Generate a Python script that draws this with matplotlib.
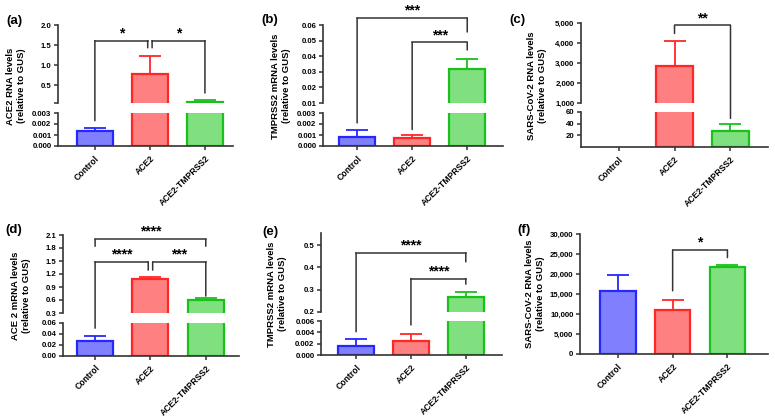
import numpy as np
import matplotlib
matplotlib.use('Agg')
import matplotlib.pyplot as plt
from matplotlib.patches import ConnectionPatch
from matplotlib.ticker import StrMethodFormatter

plt.rcParams['font.family'] = ['Liberation Sans', 'DejaVu Sans']
plt.rcParams['font.weight'] = 'bold'

# groups and colours
groups = ['Control', 'ACE2', 'ACE2-TMPRSS2']
face = ['#8080ff', '#ff8080', '#80e080']
edge = ['#2626ff', '#ff2626', '#19c219']
axc = '#333333'

# values (mean, upper error)
a_mean = [0.00135, 0.78, 0.07]
a_err = [0.0003, 0.45, 0.05]
b_mean = [0.00082, 0.00077, 0.032]
b_err = [0.0006, 0.0002, 0.0065]
c_mean = [np.nan, 2850, 28]
c_err = [np.nan, 1250, 11]
d_mean = [0.027, 1.08, 0.60]
d_err = [0.008, 0.04, 0.04]
e_mean = [0.00165, 0.0025, 0.269]
e_err = [0.0012, 0.0012, 0.019]
f_mean = [15800, 11000, 21700]
f_err = [4000, 2600, 600]

W, H = 775, 420
fig = plt.figure(figsize=(W / 100, H / 100), dpi=100)


def box(x0, y0, x1, y1):
    # pixel box -> figure fraction
    return [x0 / W, 1 - y1 / H, (x1 - x0) / W, (y1 - y0) / H]


def style(ax, bottom):
    for s in ['top', 'right']:
        ax.spines[s].set_visible(False)
    ax.spines['left'].set_linewidth(1.2)
    ax.spines['left'].set_color(axc)
    ax.tick_params(axis='y', which='both', labelsize=5.6, width=1.1, length=3.2, color=axc, pad=1.5)
    if bottom:
        ax.spines['bottom'].set_linewidth(1.2)
        ax.spines['bottom'].set_color(axc)
        ax.set_xticks(range(3))
        ax.set_xticklabels(groups, rotation=45, ha='right', rotation_mode='anchor',
                           fontsize=6.2, fontweight='bold')
        ax.tick_params(axis='x', width=1.1, length=3, color=axc, pad=2.5)
    else:
        ax.spines['bottom'].set_visible(False)
        ax.tick_params(axis='x', bottom=False, labelbottom=False)


def draw_bars(ax, mean, err):
    for i in range(3):
        if np.isnan(mean[i]):
            continue
        ax.bar(i, mean[i], width=0.65, color=face[i], edgecolor=edge[i], linewidth=1.6, zorder=2)
        ax.errorbar(i, mean[i], yerr=[[0], [err[i]]], color=edge[i], capsize=8,
                    elinewidth=1.3, capthick=1.3, zorder=1)


def broken(tb, bb, mean, err, xlim, tlim, tticks, tfmt, blim, bticks, bfmt):
    axt = fig.add_axes(box(*tb))
    axb = fig.add_axes(box(*bb))
    for ax, lim, ticks, fmt, bottom in ((axt, tlim, tticks, tfmt, False),
                                        (axb, blim, bticks, bfmt, True)):
        draw_bars(ax, mean, err)
        ax.set_xlim(*xlim)
        ax.set_ylim(*lim)
        ax.set_yticks(ticks)
        ax.yaxis.set_major_formatter(StrMethodFormatter(fmt))
        style(ax, bottom)
    # small tick where the upper segment ends
    axt.set_yticks([tlim[0]], minor=True)
    return axt, axb


def bracket(axt, x1, x2, y, end1, end2, stars):
    axt.plot([x1, x2], [y, y], color=axc, lw=1.1, clip_on=False, solid_capstyle='projecting')
    for x, (ax_e, ye) in ((x1, end1), (x2, end2)):
        con = ConnectionPatch(xyA=(x, y), coordsA=axt.transData, xyB=(x, ye),
                              coordsB=ax_e.transData, color=axc, lw=1.1)
        fig.add_artist(con)
    axt.annotate(stars, xy=((x1 + x2) / 2, y), xytext=(0, 0.3), textcoords='offset points',
                 ha='center', va='bottom', fontsize=10, fontweight='bold', annotation_clip=False)


def labels(xl, yl, text, xp, yp, letter):
    fig.text(xl / W, 1 - yl / H, text, rotation=90, ha='center', va='center',
             fontsize=6.8, fontweight='bold', linespacing=1.15)
    fig.text(xp / W, 1 - yp / H, letter, ha='center', va='center', fontsize=9.5, fontweight='bold')


# (a)
at, ab = broken((58, 25, 233, 103), (58, 113, 233, 146), a_mean, a_err, (-0.67, 2.51),
                (0.05, 2.0), [0.5, 1.0, 1.5, 2.0], '{x:.1f}',
                (0, 0.003), [0, 0.001, 0.002, 0.003], '{x:.3f}')
bracket(at, 0, 0.96, 1.61, (ab, 0.0023), (at, 1.43), '*')
bracket(at, 1.04, 2, 1.61, (at, 1.43), (at, 0.3), '*')
labels(16, 86, 'ACE2 RNA levels\n(relative to GUS)', 14, 21, '(a)')

# (b)
bt, bb = broken((323, 25, 503, 103), (323, 113, 503, 146), b_mean, b_err, (-0.62, 2.65),
                (0.01, 0.06), [0.01, 0.02, 0.03, 0.04, 0.05, 0.06], '{x:.2f}',
                (0, 0.003), [0, 0.001, 0.002, 0.003], '{x:.3f}')
bracket(bt, 0, 2, 0.0645, (bb, 0.0021), (bt, 0.0555), '***')
bracket(bt, 1, 2, 0.0488, (bb, 0.0015), (bt, 0.044), '***')
labels(281, 86, 'TMPRSS2 mRNA levels\n(relative to GUS)', 270, 20, '(b)')

# (c)
ct, cb = broken((581, 23, 768, 103), (581, 112, 768, 147), c_mean, c_err, (-0.67, 2.67),
                (1000, 5000), [1000, 2000, 3000, 4000, 5000], '{x:,.0f}',
                (0, 60), [20, 40, 60], '{x:.0f}')
bracket(ct, 1, 2, 4880, (ct, 4480), (cb, 49), '**')
labels(537, 86, 'SARS-CoV-2 RNA levels\n(relative to GUS)', 517, 20, '(c)')

# (d)
dt, db = broken((63, 235, 239, 313), (63, 322.7, 239, 355.7), d_mean, d_err, (-0.58, 2.6),
                (0.3, 2.1), [0.3, 0.6, 0.9, 1.2, 1.5, 1.8, 2.1], '{x:.1f}',
                (0, 0.06), [0, 0.02, 0.04, 0.06], '{x:.2f}')
bracket(dt, 0, 2, 2.0, (dt, 1.84), (dt, 1.84), '****')
bracket(dt, 0, 0.96, 1.48, (db, 0.05), (dt, 1.29), '****')
bracket(dt, 1.04, 2, 1.48, (dt, 1.29), (dt, 0.69), '***')
labels(21, 296, 'ACE 2 mRNA levels\n(relative to GUS)', 14, 230, '(d)')

# (e)
et, eb = broken((321, 233.3, 502, 312), (321, 321, 502, 355), e_mean, e_err, (-0.64, 2.66),
                (0.2, 0.553), [0.2, 0.3, 0.4, 0.5], '{x:.1f}',
                (0, 0.006), [0, 0.002, 0.004, 0.006], '{x:.3f}')
bracket(et, 0, 2, 0.465, (eb, 0.0041), (et, 0.425), '****')
bracket(et, 1, 2, 0.35, (eb, 0.0053), (et, 0.325), '****')
labels(277, 294, 'TMPRSS2 mRNA levels\n(relative to GUS)', 270, 232, '(e)')

# (f)
af = fig.add_axes(box(580, 234, 768, 354))
draw_bars(af, f_mean, f_err)
af.set_xlim(-0.69, 2.74)
af.set_ylim(0, 30000)
af.set_yticks(range(0, 30001, 5000))
af.yaxis.set_major_formatter(StrMethodFormatter('{x:,.0f}'))
style(af, True)
bracket(af, 1, 2, 26000, (af, 15800), (af, 24100), '*')
labels(535, 294, 'SARS-CoV-2 RNA levels\n(relative to GUS)', 524, 230, '(f)')

fig.savefig('out.png', dpi=100)
